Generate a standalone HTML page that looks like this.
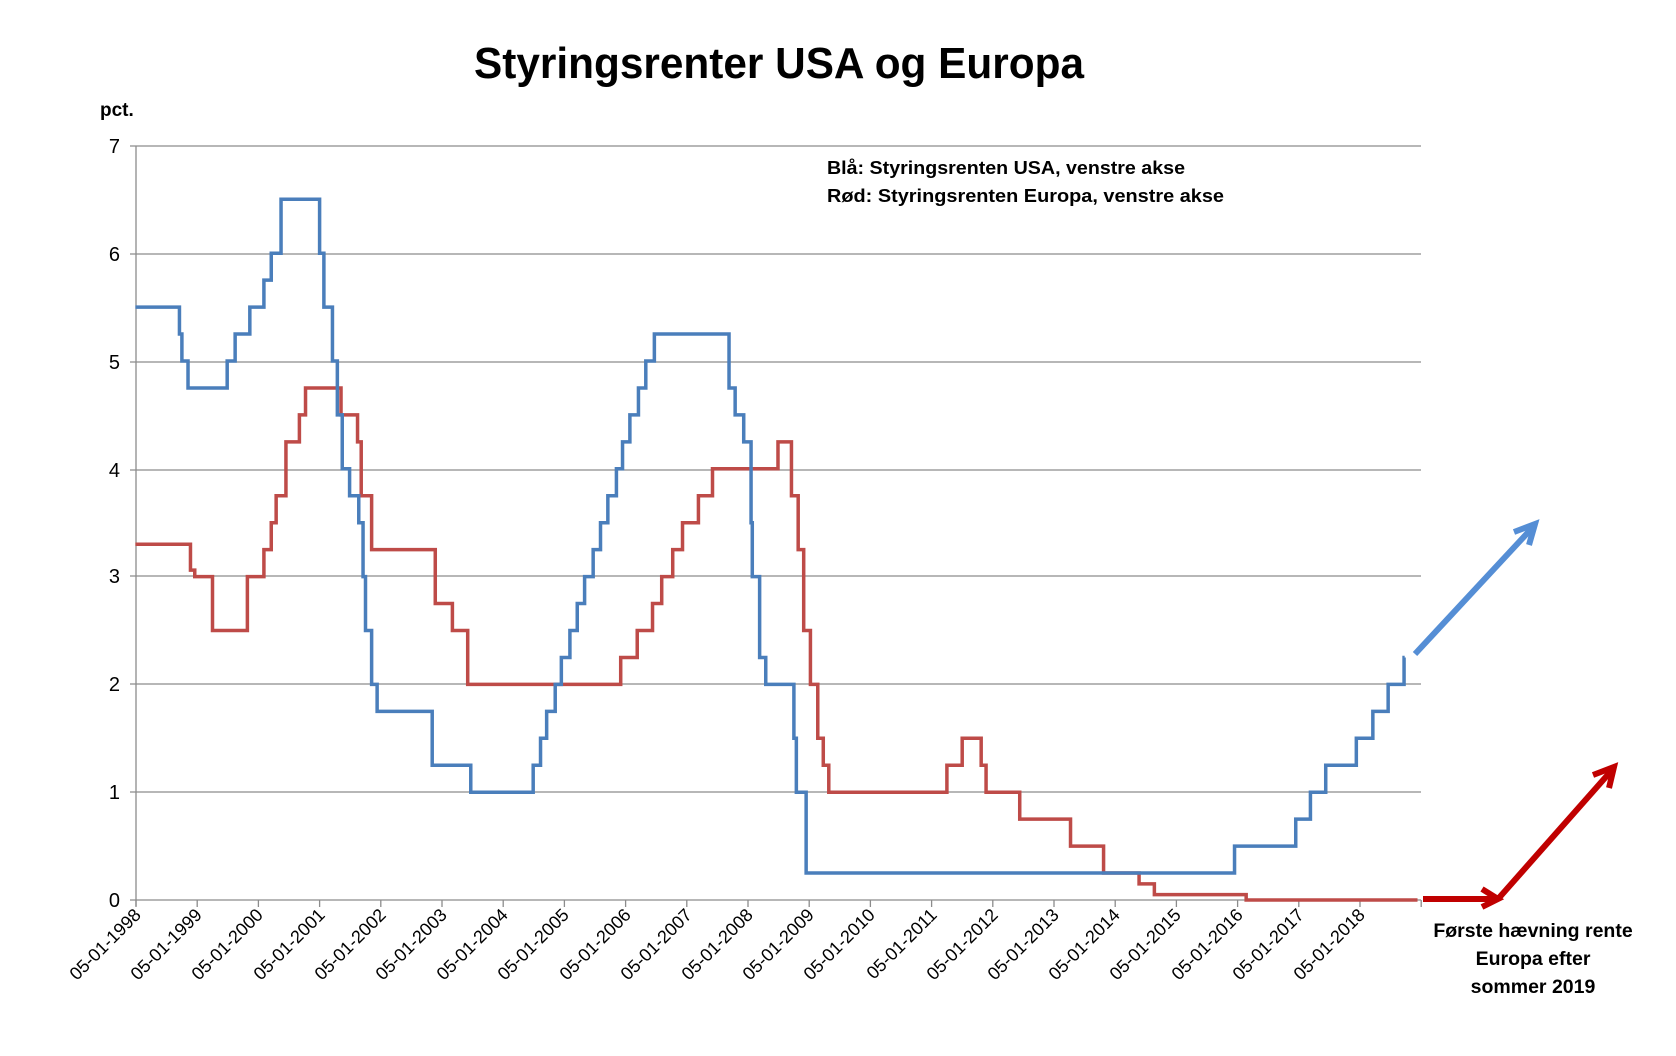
<!DOCTYPE html>
<html><head><meta charset="utf-8"><style>
html,body{margin:0;padding:0;background:#fff;}
svg{display:block;}
text{font-family:"Liberation Sans",sans-serif;}
</style></head><body>
<svg id="s" width="1676" height="1056" viewBox="0 0 1676 1056" xmlns="http://www.w3.org/2000/svg">
<rect width="1676" height="1056" fill="#fff"/>
<text x="474" y="78" font-size="44" font-weight="bold" textLength="610" lengthAdjust="spacingAndGlyphs">Styringsrenter USA og Europa</text>
<text x="100" y="116" font-size="19" font-weight="bold">pct.</text>
<g stroke="#8c8c8c" stroke-width="1.3">
<line x1="130" y1="146" x2="1421" y2="146"/>
<line x1="130" y1="254" x2="1421" y2="254"/>
<line x1="130" y1="362" x2="1421" y2="362"/>
<line x1="130" y1="470" x2="1421" y2="470"/>
<line x1="130" y1="576" x2="1421" y2="576"/>
<line x1="130" y1="684" x2="1421" y2="684"/>
<line x1="130" y1="792" x2="1421" y2="792"/>
<line x1="130" y1="900" x2="1421" y2="900"/>
<line x1="136" y1="146" x2="136" y2="906"/>
</g>
<g id="ticks" stroke="#8c8c8c" stroke-width="1.3"></g>
<g font-size="20" text-anchor="end" fill="#000">
<text x="120" y="153">7</text><text x="120" y="261">6</text><text x="120" y="369">5</text><text x="120" y="477">4</text><text x="120" y="583">3</text><text x="120" y="691">2</text><text x="120" y="799">1</text><text x="120" y="907">0</text>
</g>
<g id="xl" font-size="18" text-anchor="end" fill="#000">
<text transform="translate(142,916) rotate(-45)">05-01-1998</text>
<text transform="translate(203,916) rotate(-45)">05-01-1999</text>
<text transform="translate(264,916) rotate(-45)">05-01-2000</text>
<text transform="translate(326,916) rotate(-45)">05-01-2001</text>
<text transform="translate(387,916) rotate(-45)">05-01-2002</text>
<text transform="translate(448,916) rotate(-45)">05-01-2003</text>
<text transform="translate(509,916) rotate(-45)">05-01-2004</text>
<text transform="translate(570,916) rotate(-45)">05-01-2005</text>
<text transform="translate(632,916) rotate(-45)">05-01-2006</text>
<text transform="translate(693,916) rotate(-45)">05-01-2007</text>
<text transform="translate(754,916) rotate(-45)">05-01-2008</text>
<text transform="translate(815,916) rotate(-45)">05-01-2009</text>
<text transform="translate(876,916) rotate(-45)">05-01-2010</text>
<text transform="translate(938,916) rotate(-45)">05-01-2011</text>
<text transform="translate(999,916) rotate(-45)">05-01-2012</text>
<text transform="translate(1060,916) rotate(-45)">05-01-2013</text>
<text transform="translate(1121,916) rotate(-45)">05-01-2014</text>
<text transform="translate(1182,916) rotate(-45)">05-01-2015</text>
<text transform="translate(1244,916) rotate(-45)">05-01-2016</text>
<text transform="translate(1305,916) rotate(-45)">05-01-2017</text>
<text transform="translate(1366,916) rotate(-45)">05-01-2018</text>
</g>
<text x="827" y="174" font-size="18.5" font-weight="bold" textLength="358" lengthAdjust="spacingAndGlyphs">Blå: Styringsrenten USA, venstre akse</text>
<text x="827" y="202" font-size="18.5" font-weight="bold" textLength="397" lengthAdjust="spacingAndGlyphs">Rød: Styringsrenten Europa, venstre akse</text>
<path id="red" fill="none" stroke="#BE4B48" stroke-width="3.5" stroke-linejoin="miter"/>
<path id="blue" fill="none" stroke="#4A7EBB" stroke-width="3.5" stroke-linejoin="miter"/>
<g stroke="#558ED5" stroke-width="6" fill="none" stroke-linecap="butt">
<line x1="1415" y1="654" x2="1533" y2="527"/>
<polyline points="1514,532 1535,524 1529,545"/>
</g>
<g stroke="#C00000" stroke-width="6" fill="none">
<line x1="1423" y1="899" x2="1498" y2="899"/>
<polyline points="1482,889 1498,899 1482,907"/>
<line x1="1498" y1="899" x2="1612" y2="770"/>
<polyline points="1593,775 1614,767 1609,788"/>
</g>
<g font-size="19.5" font-weight="bold" text-anchor="middle">
<text x="1533" y="937">Første hævning rente</text>
<text x="1533" y="965">Europa  efter</text>
<text x="1533" y="993">sommer 2019</text>
</g>
</svg>
<script>
var X=function(t){return 136+(t-1998.01)*61.2;},Y=function(v){return 900-v*107.8;};
var tk='';for(var i=0;i<=21;i++){var x=136+i*61.2;tk+='<line x1="'+x+'" y1="900" x2="'+x+'" y2="907"/>';}
document.getElementById('ticks').innerHTML=tk;
function P(d,end){var s='M'+X(d[0][0])+','+Y(d[0][1]);for(var i=1;i<d.length;i++){s+='H'+X(d[i][0])+'V'+Y(d[i][1]);}s+='H'+X(end);return s;}
var blue=[[1998.0,5.5],[1998.72,5.25],[1998.76,5.0],[1998.86,4.75],[1999.5,5.0],[1999.63,5.25],[1999.87,5.5],[2000.1,5.75],[2000.22,6.0],[2000.38,6.5],[2001.01,6.0],[2001.08,5.5],[2001.22,5.0],[2001.3,4.5],[2001.38,4.0],[2001.5,3.75],[2001.65,3.5],[2001.72,3.0],[2001.76,2.5],[2001.86,2.0],[2001.95,1.75],[2002.85,1.25],[2003.48,1.0],[2004.5,1.25],[2004.62,1.5],[2004.72,1.75],[2004.86,2.0],[2004.96,2.25],[2005.1,2.5],[2005.22,2.75],[2005.34,3.0],[2005.48,3.25],[2005.6,3.5],[2005.72,3.75],[2005.86,4.0],[2005.96,4.25],[2006.08,4.5],[2006.22,4.75],[2006.34,5.0],[2006.48,5.25],[2007.7,4.75],[2007.8,4.5],[2007.94,4.25],[2008.06,3.5],[2008.08,3.0],[2008.2,2.25],[2008.3,2.0],[2008.76,1.5],[2008.8,1.0],[2008.96,0.25],[2015.96,0.5],[2016.96,0.75],[2017.2,1.0],[2017.45,1.25],[2017.95,1.5],[2018.22,1.75],[2018.47,2.0],[2018.73,2.25]];
var red=[[1998.0,3.3],[1998.9,3.06],[1998.97,3.0],[1999.26,2.5],[1999.83,3.0],[2000.1,3.25],[2000.22,3.5],[2000.3,3.75],[2000.46,4.25],[2000.68,4.5],[2000.78,4.75],[2001.36,4.5],[2001.63,4.25],[2001.69,3.75],[2001.86,3.25],[2002.9,2.75],[2003.18,2.5],[2003.43,2.0],[2005.93,2.25],[2006.2,2.5],[2006.45,2.75],[2006.6,3.0],[2006.78,3.25],[2006.94,3.5],[2007.2,3.75],[2007.43,4.0],[2008.5,4.25],[2008.72,3.75],[2008.83,3.25],[2008.92,2.5],[2009.03,2.0],[2009.15,1.5],[2009.24,1.25],[2009.33,1.0],[2011.26,1.25],[2011.51,1.5],[2011.82,1.25],[2011.9,1.0],[2012.45,0.75],[2013.28,0.5],[2013.82,0.25],[2014.4,0.15],[2014.65,0.05],[2016.15,0.0]];
document.getElementById('blue').setAttribute('d',P(blue,2018.74));
document.getElementById('red').setAttribute('d',P(red,2018.95));
</script>
</body></html>
